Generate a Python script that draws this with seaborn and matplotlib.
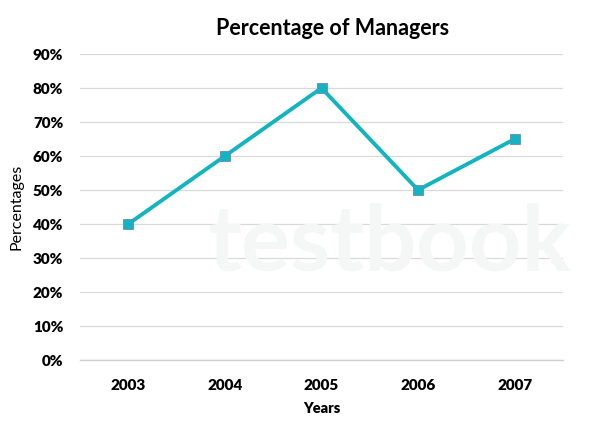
import matplotlib
matplotlib.use("Agg")
import matplotlib.pyplot as plt
import seaborn as sns
import pandas as pd
from matplotlib.ticker import FixedLocator, FuncFormatter

years = ["2003", "2004", "2005", "2006", "2007"]
percentages = [40, 60, 80, 50, 65]
y_ticks = [0, 10, 20, 30, 40, 50, 60, 70, 80, 90]

df = pd.DataFrame({"Years": years, "Percentages": percentages})

sns.set_theme(style="white")
plt.rcParams["font.family"] = ["Lato", "DejaVu Sans"]

fig = plt.figure(figsize=(6.08, 4.29), dpi=100)
ax = fig.add_axes([80/608, 1-360/429, 483/608, 306/429])

# faint watermark
fig.text(0.64, 0.43, "testbook", fontsize=66, fontweight="bold", color="#f5f7f7",
         ha="center", va="center", zorder=0)

sns.lineplot(data=df, x="Years", y="Percentages", ax=ax, color="#12B4C0",
             linewidth=2.8, marker="s", markersize=7, markerfacecolor="#12B4C0",
             markeredgecolor="#6A86C8", markeredgewidth=0.6, sort=False, zorder=3)

ax.set_xlim(-0.5, 4.5)
ax.set_ylim(0, 90)
ax.set_yticks(y_ticks)
ax.yaxis.set_major_formatter(FuncFormatter(lambda v, p: f"{int(v)}%"))
ax.set_xticks(range(len(years)))
ax.set_xticklabels(years)
ax.xaxis.set_minor_locator(FixedLocator([i - 0.5 for i in range(len(years) + 1)]))
ax.tick_params(axis="x", which="major", length=0, pad=14)
ax.tick_params(axis="x", which="minor", length=5, color="#D0D0D0", width=1)
ax.tick_params(axis="y", length=0, pad=12)
for lab in ax.get_xticklabels() + ax.get_yticklabels():
    lab.set_fontweight("heavy")
    lab.set_fontsize(11)
    lab.set_color("black")

ax.grid(axis="y", color="#D9D9D9", linewidth=0.9)
ax.set_axisbelow(True)
ax.patch.set_alpha(0)
for s in ["top", "right", "left"]:
    ax.spines[s].set_visible(False)
ax.spines["bottom"].set_color("#D0D0D0")
ax.spines["bottom"].set_linewidth(1)

ax.set_xlabel("Years", fontsize=10.5, fontweight="heavy", labelpad=7, color="black")
ax.set_ylabel("Percentages", fontsize=11.5, labelpad=7, color="black")
ax.set_title("Percentage of Managers", fontsize=15.5, fontweight="bold", pad=14,
             color="black", x=(333 - 80) / 483)

fig.savefig("out.png", dpi=100)
